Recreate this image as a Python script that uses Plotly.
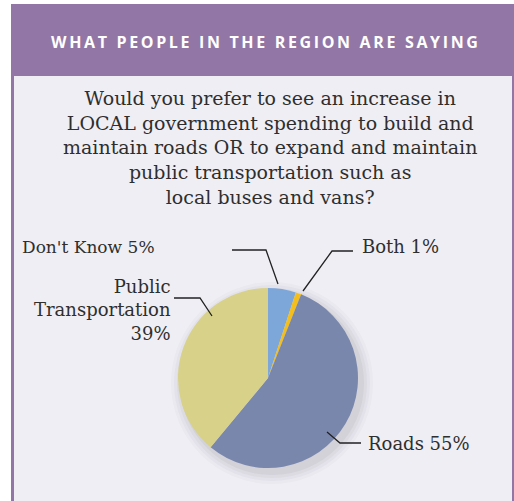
import plotly.graph_objects as go

W, H = 514, 501

# data
labels = ["Don't Know", "Both", "Roads", "Public Transportation"]
values = [5, 1, 55, 39]
colors = ["#7ea7d9", "#f4bf1c", "#7a87ad", "#d8d189"]

title = "WHAT PEOPLE IN THE REGION ARE SAYING"
question = ("Would you prefer to see an increase in<br>"
            "LOCAL government spending to build and<br>"
            "maintain roads OR to expand and maintain<br>"
            "public transportation such as<br>"
            "local buses and vans?")


def px(x):
    return x / W


def py(y):
    return 1 - y / H


PURPLE = "#9277a6"
BG = "#efeef4"
TXT = "#2e2e2e"
SERIF = "DejaVu Serif"

fig = go.Figure()

fig.add_trace(go.Pie(
    labels=labels,
    values=values,
    marker=dict(colors=colors, line=dict(width=0)),
    sort=False,
    direction="clockwise",
    rotation=0,
    textinfo="none",
    hoverinfo="label+percent",
    showlegend=False,
    domain=dict(x=[px(178), px(358)], y=[py(468), py(288)]),
))

shapes = []
# frame
shapes.append(dict(type="rect", xref="paper", yref="paper",
                   x0=px(11), x1=px(514), y0=py(501), y1=py(4),
                   fillcolor=PURPLE, line=dict(width=0), layer="below"))
shapes.append(dict(type="rect", xref="paper", yref="paper",
                   x0=px(14), x1=px(512), y0=py(501), y1=py(76),
                   fillcolor=BG, line=dict(width=0), layer="below"))
# soft shadow behind pie, a bit towards the lower right
for r, op in [(101, 0.025), (98, 0.035), (95, 0.045), (92, 0.06)]:
    cx, cy = 272, 383
    shapes.append(dict(type="circle", xref="paper", yref="paper",
                       x0=px(cx - r), x1=px(cx + r), y0=py(cy + r), y1=py(cy - r),
                       fillcolor="rgba(60,60,80,%s)" % op, line=dict(width=0),
                       layer="below"))

# leader lines
leaders = [
    [(232, 250), (266, 250), (278, 284)],
    [(353, 251), (332, 251), (303, 291)],
    [(174, 298), (200, 298), (212, 316)],
    [(327, 432), (340, 443), (361, 443)],
]
for pts in leaders:
    path = "M " + " L ".join("%f,%f" % (px(x), py(y)) for x, y in pts)
    shapes.append(dict(type="path", xref="paper", yref="paper", path=path,
                       line=dict(color="#222222", width=1.3)))

annotations = [
    dict(text="\u2009".join(title), x=px(264), y=py(42),
         font=dict(family="Open Sans", size=16, color="white", weight="bold")),
    dict(text=question, x=px(270), y=py(147),
         font=dict(family=SERIF, size=19, color=TXT)),
    dict(text="%s %d%%" % (labels[0], values[0]), x=px(157), y=py(247),
         xanchor="right", font=dict(family=SERIF, size=17, color=TXT)),
    dict(text="%s %d%%" % (labels[1], values[1]), x=px(360), y=py(246),
         xanchor="left", font=dict(family=SERIF, size=18, color=TXT)),
    dict(text="%s %d%%" % (labels[2], values[2]), x=px(366), y=py(443),
         xanchor="left", font=dict(family=SERIF, size=18, color=TXT)),
    dict(text="Public<br>Transportation<br>%d%%" % values[3], x=px(173), y=py(310),
         xanchor="right", align="right",
         font=dict(family=SERIF, size=18, color=TXT)),
]
for a in annotations:
    a.update(xref="paper", yref="paper", showarrow=False)
    a.setdefault("xanchor", "center")
    a.setdefault("yanchor", "middle")

fig.update_layout(
    width=W, height=H,
    margin=dict(l=0, r=0, t=0, b=0),
    paper_bgcolor="white",
    plot_bgcolor="white",
    shapes=shapes,
    annotations=annotations,
)

fig.write_html("out.html", config={"displayModeBar": False},
               post_script="document.body.style.margin='0';")
